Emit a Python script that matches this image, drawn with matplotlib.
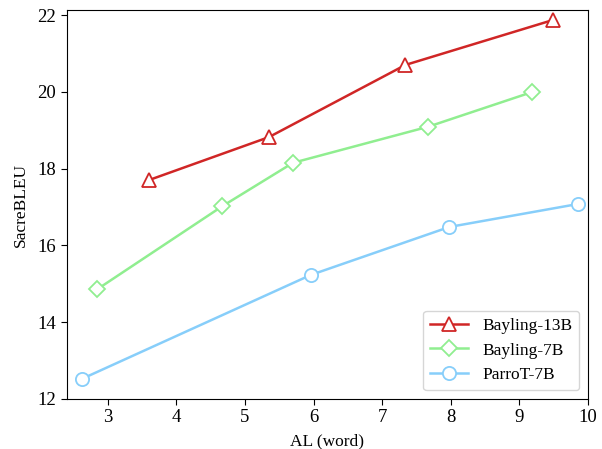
import matplotlib
matplotlib.use("Agg")
import matplotlib.pyplot as plt

plt.rcParams['font.family'] = ['Liberation Serif', 'DejaVu Serif']

# Data
bay13_al = [3.60, 5.35, 7.34, 9.49]
bay13_bleu = [17.70, 18.82, 20.70, 21.87]

bay7_al = [2.85, 4.67, 5.70, 7.67, 9.18]
bay7_bleu = [14.86, 17.02, 18.15, 19.09, 19.99]

parrot_al = [2.62, 5.96, 7.98, 9.86]
parrot_bleu = [12.52, 15.23, 16.48, 17.08]

fig = plt.figure(figsize=(6.02, 4.49), dpi=100)
ax = fig.add_axes([0.1105, 0.1114, 0.8662, 0.8663])

ax.plot(bay13_al, bay13_bleu, color='#d02626', marker='^', ms=10, mfc='white',
        mew=1.3, lw=1.8, label='Bayling-13B')
ax.plot(bay7_al, bay7_bleu, color='#90ee90', marker='D', ms=8, mfc='white',
        mew=1.3, lw=1.8, label='Bayling-7B')
ax.plot(parrot_al, parrot_bleu, color='#87cefa', marker='o', ms=9.5, mfc='white',
        mew=1.3, lw=1.8, label='ParroT-7B')

ax.set_xlim(2.4, 10)
ax.set_ylim(12, 22.13)
ax.set_xticks([3, 4, 5, 6, 7, 8, 9, 10])
ax.set_yticks([12, 14, 16, 18, 20, 22])
ax.tick_params(labelsize=13.5, length=4)

ax.set_xlabel('AL (word)', fontsize=12.5, labelpad=5)
ax.set_ylabel('SacreBLEU', fontsize=12.5, labelpad=6)

ax.legend(loc='lower right', fontsize=12.5, handlelength=2.2)

fig.savefig('out.png', dpi=100)
